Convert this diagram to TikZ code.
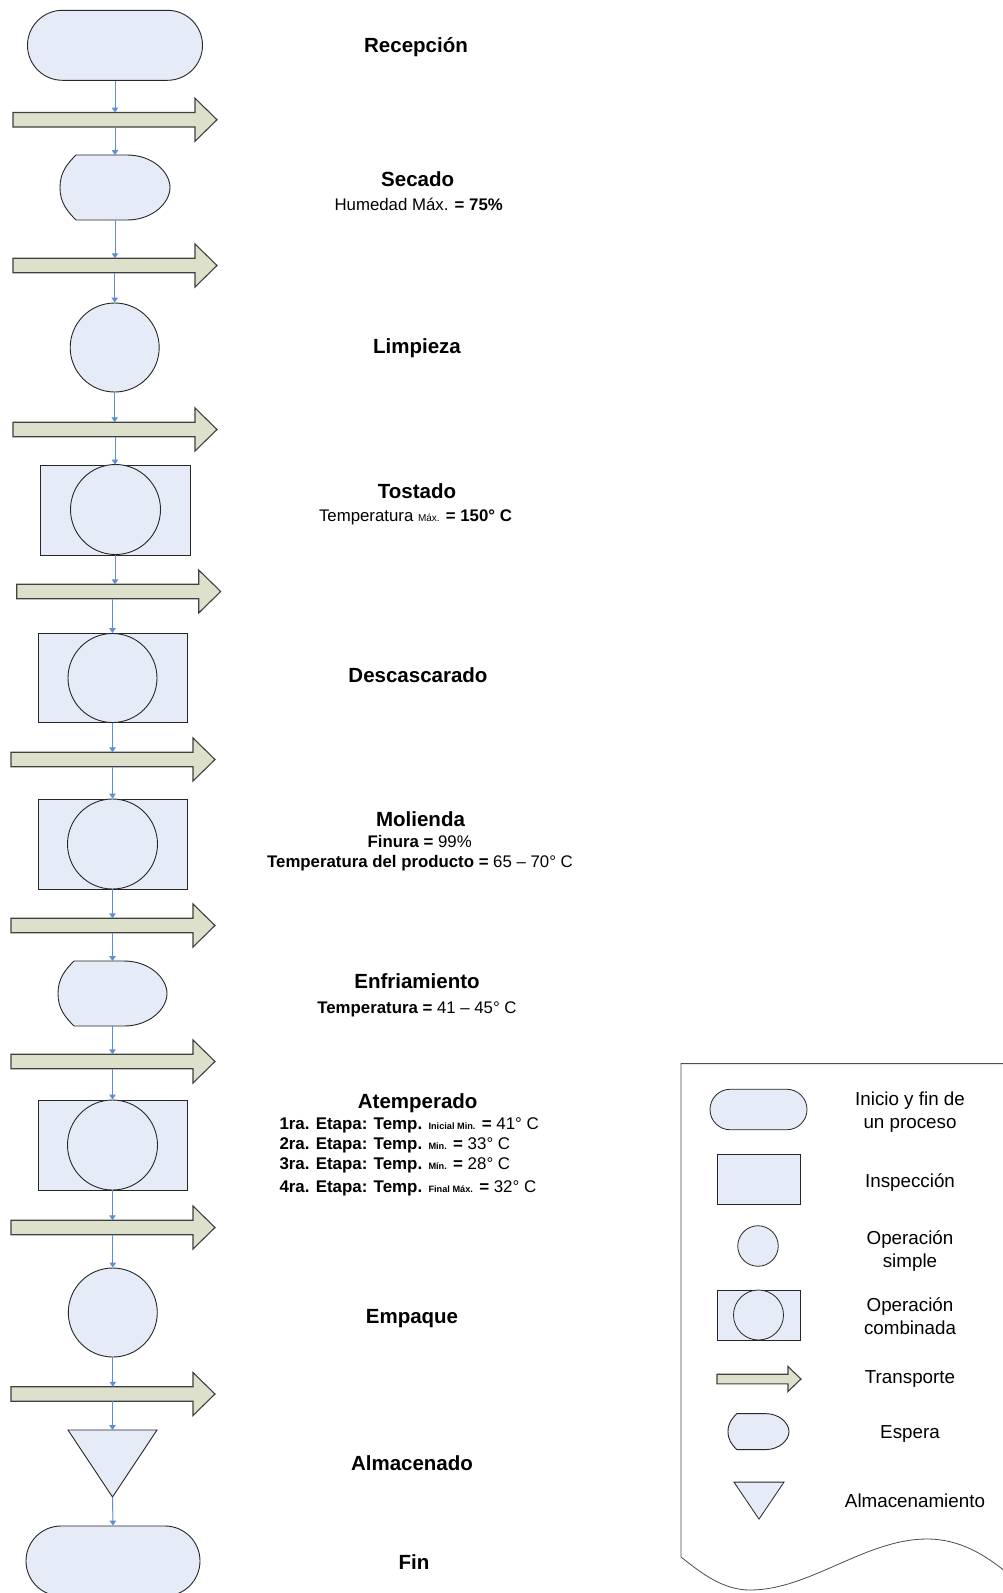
\documentclass[tikz,border=0pt]{standalone}
\usepackage{fontspec}
\setmainfont{Liberation Sans}
\usepackage{tikz}
\usetikzlibrary{shapes.misc,arrows.meta}

\definecolor{opfill}{HTML}{E6ECF7}
\definecolor{trfill}{HTML}{DDE0CA}
\definecolor{flowblue}{HTML}{5F8FD0}

% contorno de "espera" alrededor de un nodo vacio (#1 = escala, #2 = nombre)
\newcommand{\esperaforma}[2]{%
  \draw[shapeline] ([xshift={16pt*#1}]#2.north west) -- ([xshift={-43pt*#1}]#2.north east)
    .. controls +({26pt*#1},0pt) and +(0pt,{15pt*#1}) .. (#2.east)
    .. controls +(0pt,{-15pt*#1}) and +({26pt*#1},0pt) .. ([xshift={-43pt*#1}]#2.south east)
    -- ([xshift={16pt*#1}]#2.south west)
    .. controls +({-9pt*#1},{9pt*#1}) and +(0pt,{-15pt*#1}) .. (#2.west)
    .. controls +(0pt,{15pt*#1}) and +({-9pt*#1},{-9pt*#1}) .. ([xshift={16pt*#1}]#2.north west)
    -- cycle;}

% flecha de transporte sobre el cuerpo #1 (#2 = largo de la punta, #3 = ala)
\newcommand{\transporteforma}[3]{%
  \draw[flecha] (#1.north west) -- (#1.north east) -- ([yshift=#3]#1.north east)
    -- ([xshift=#2]#1.east) -- ([yshift=-#3]#1.south east) -- (#1.south east)
    -- (#1.south west) -- cycle;}

\begin{document}
\begin{tikzpicture}[x=1pt, y=-1pt,
  shapeline/.style={draw=black!85, line width=0.9pt, fill=opfill},
  terminal/.style={shapeline, rounded rectangle, minimum width=175pt, minimum height=70pt, inner sep=0pt},
  operacion/.style={shapeline, circle, minimum size=89pt, inner sep=0pt},
  inspeccion/.style={shapeline, rectangle, minimum width=149pt, minimum height=89pt, inner sep=0pt},
  hueco/.style={rectangle, inner sep=0pt, outer sep=0pt, draw=none},
  cuerpo/.style={hueco, anchor=west, minimum width=182pt, minimum height=14.5pt},
  flecha/.style={draw=black!75, fill=trfill, line width=1.1pt},
  flujo/.style={draw=flowblue, line width=1pt, -{Triangle[length=5pt,width=6.5pt]}},
  titulo/.style={font=\fontsize{20.5}{24}\selectfont\bfseries, anchor=base, inner sep=0pt},
  detalle/.style={font=\fontsize{16.8}{20}\selectfont, anchor=base, inner sep=0pt},
  etapa/.style={font=\fontsize{16.9}{20}\selectfont, anchor=base west, inner sep=0pt},
  leyenda/.style={font=\fontsize{18.8}{22}\selectfont, anchor=base, inner sep=0pt}
]
\useasboundingbox (0,0) rectangle (1002,1593);

% diagrama de proceso
\node[terminal] (recepcion) at (115,45.3) {};
\node[cuerpo] (t1) at (13,119.75) {};
\node[hueco, minimum width=110pt, minimum height=65pt] (secado) at (115,187.5) {};
\esperaforma{1}{secado}
\node[cuerpo] (t2) at (13,265.5) {};
\node[operacion] (limpieza) at (114.7,347.5) {};
\node[cuerpo] (t3) at (13,429.5) {};
\node[inspeccion, minimum width=150pt, minimum height=90pt] (tostado) at (115,510) {};
\node[operacion, minimum size=90pt] (tostado-c) at (115.5,509.5) {};
\node[cuerpo] (t4) at (16.7,591.5) {};
\node[inspeccion] (descascarado) at (112.5,678) {};
\node[operacion] (descascarado-c) at (112.5,678) {};
\node[cuerpo] (t5) at (11,759.5) {};
\node[inspeccion, minimum height=90pt] (molienda) at (112.5,844) {};
\node[operacion, minimum size=90pt] (molienda-c) at (112.5,844) {};
\node[cuerpo] (t6) at (11,925.5) {};
\node[hueco, minimum width=109pt, minimum height=65pt] (enfriamiento) at (112.5,993.5) {};
\esperaforma{1}{enfriamiento}
\node[cuerpo] (t7) at (11,1061.5) {};
\node[inspeccion, minimum height=90pt] (atemperado) at (112.5,1145) {};
\node[operacion, minimum size=90pt] (atemperado-c) at (112.5,1145) {};
\node[cuerpo] (t8) at (11,1227.5) {};
\node[operacion] (empaque) at (112.8,1312.5) {};
\node[cuerpo] (t9) at (11,1394) {};
\node[hueco, minimum width=89pt, minimum height=67pt] (almacenado) at (112.5,1463.5) {};
\draw[shapeline] (almacenado.north west) -- (almacenado.north east) -- (almacenado.south) -- cycle;
\node[terminal, minimum width=174pt] (fin) at (113,1561) {};

\foreach \t in {t1,t2,t3,t4,t5,t6,t7,t8,t9}
  \transporteforma{\t}{22pt}{14.25pt};

% conectores
\foreach \a/\t/\b in {recepcion/t1/secado, secado/t2/limpieza, limpieza/t3/tostado,
    tostado/t4/descascarado, descascarado/t5/molienda, molienda/t6/enfriamiento,
    enfriamiento/t7/atemperado, atemperado/t8/empaque, empaque/t9/almacenado} {
  \draw[flujo] (\a.south) -- (\t.north -| \a.south);
  \draw[flujo] (\t.south -| \b.north) -- (\b.north);
}
\draw[flujo] (almacenado.south) -- (fin.north);

% textos
\node[titulo] (recepcion-txt) at (416,52.3) {Recepción};
\node[titulo] (secado-txt) at (417.7,186.7) {Secado};
\node[detalle] (secado-det) at (418.7,210) {Humedad Máx. \textbf{= 75\%}};
\node[titulo] (limpieza-txt) at (417,353) {Limpieza};
\node[titulo] (tostado-txt) at (417,498.3) {Tostado};
\node[detalle] (tostado-det) at (415.5,521) {Temperatura {\fontsize{10}{11}\selectfont Máx.} \textbf{= 150° C}};
\node[titulo] (descascarado-txt) at (418,682.5) {Descascarado};
\node[titulo] (molienda-txt) at (420.5,826) {Molienda};
\node[detalle] (molienda-det1) at (419.7,847.3) {\textbf{Finura =} 99\%};
\node[detalle] (molienda-det2) at (420,867.5) {\textbf{Temperatura del producto =} 65 – 70° C};
\node[titulo] (enfriamiento-txt) at (417,988) {Enfriamiento};
\node[detalle] (enfriamiento-det) at (417,1013) {\textbf{Temperatura =} 41 – 45° C};
\node[titulo] (atemperado-txt) at (417.7,1108.3) {Atemperado};
\node[etapa] (etapa1) at (279.3,1129.5) {\textbf{1ra. Etapa: Temp.} {\fontsize{9.2}{10}\selectfont\bfseries Inicial Min.} \textbf{=} 41° C};
\node[etapa] (etapa2) at (279.3,1149.5) {\textbf{2ra. Etapa: Temp.} {\fontsize{9.2}{10}\selectfont\bfseries Min.} \textbf{=} 33° C};
\node[etapa] (etapa3) at (279.3,1169.5) {\textbf{3ra. Etapa: Temp.} {\fontsize{9.2}{10}\selectfont\bfseries Mín.} \textbf{=} 28° C};
\node[etapa] (etapa4) at (279.3,1192) {\textbf{4ra. Etapa: Temp.} {\fontsize{9.2}{10}\selectfont\bfseries Final Máx.} \textbf{=} 32° C};
\node[titulo] (empaque-txt) at (412,1323.3) {Empaque};
\node[titulo] (almacenado-txt) at (412,1470.7) {Almacenado};
\node[titulo] (fin-txt) at (414,1569) {Fin};

% leyenda
\draw[draw=black!70, line width=0.8pt, fill=white] (1006,1063.6) -- (681,1063.6) -- (681,1557)
  .. controls (700,1572) and (722,1590) .. (750,1590)
  .. controls (810,1590) and (865,1539) .. (927,1539)
  .. controls (960,1539) and (985,1555) .. (1006,1572);
\node[terminal, minimum width=97pt, minimum height=40.5pt, line width=0.8pt] (ley-term) at (758.5,1109.5) {};
\node[inspeccion, minimum width=83pt, minimum height=50pt, line width=0.8pt] (ley-insp) at (758.5,1179.4) {};
\node[operacion, minimum size=40.5pt, line width=0.8pt] (ley-op) at (758,1246) {};
\node[inspeccion, minimum width=83pt, minimum height=50pt, line width=0.8pt] (ley-comb) at (758.5,1315) {};
\node[operacion, minimum size=50pt, line width=0.8pt] (ley-comb-c) at (758.5,1315) {};
\node[cuerpo, minimum width=71pt, minimum height=9.6pt] (ley-tr) at (717,1379) {};
\transporteforma{ley-tr}{13pt}{7.7pt}
\node[hueco, minimum width=61pt, minimum height=36pt] (ley-esp) at (758.5,1431.6) {};
\esperaforma{0.55}{ley-esp}
\node[hueco, minimum width=50pt, minimum height=37pt] (ley-alm) at (759,1500.6) {};
\draw[shapeline, line width=0.8pt] (ley-alm.north west) -- (ley-alm.north east) -- (ley-alm.south) -- cycle;

\node[leyenda] (ley-term-t1) at (910,1105.4) {Inicio y fin de};
\node[leyenda] (ley-term-t2) at (910,1128.4) {un proceso};
\node[leyenda] (ley-insp-t) at (910,1187) {Inspección};
\node[leyenda] (ley-op-t1) at (910,1244.2) {Operación};
\node[leyenda] (ley-op-t2) at (910,1267.2) {simple};
\node[leyenda] (ley-comb-t1) at (910,1311.5) {Operación};
\node[leyenda] (ley-comb-t2) at (910,1334.5) {combinada};
\node[leyenda] (ley-tr-t) at (910,1383.5) {Transporte};
\node[leyenda] (ley-esp-t) at (910,1438.5) {Espera};
\node[leyenda] (ley-alm-t) at (915,1507.8) {Almacenamiento};
\end{tikzpicture}
\end{document}
